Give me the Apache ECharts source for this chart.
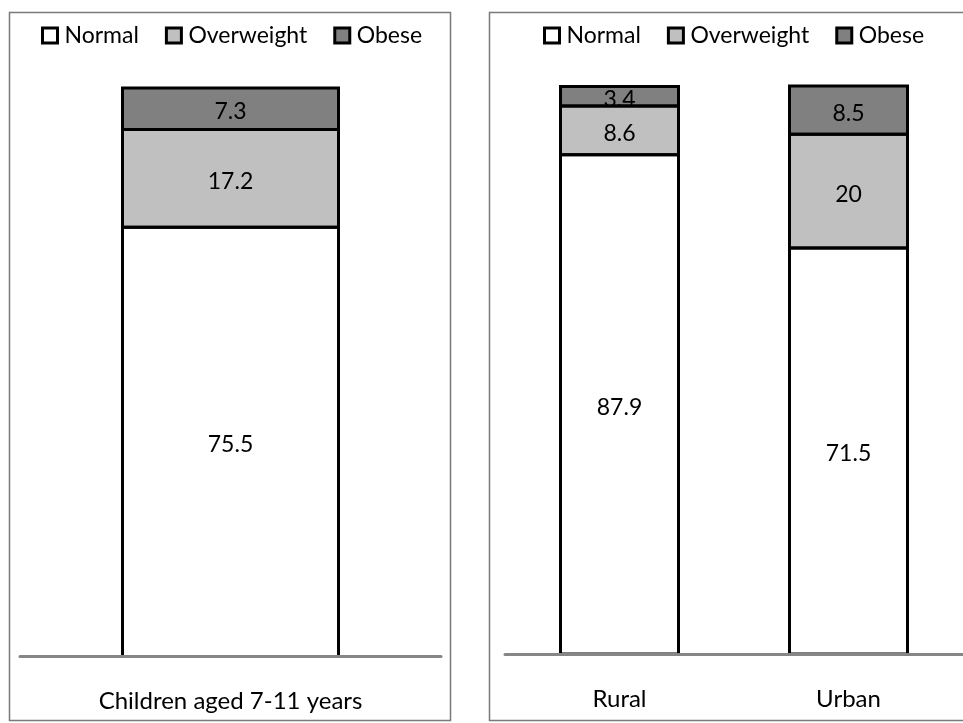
<!DOCTYPE html>
<html>
<head>
<meta charset="utf-8">
<script src="https://cdn.jsdelivr.net/npm/echarts@6/dist/echarts.min.js"></script>
<style>
  html, body { margin: 0; padding: 0; background: #fff; }
  #chart { width: 963px; height: 723px; }
</style>
</head>
<body>
<div id="chart"></div>
<script>
// Weight status of children (%), overall and by area
const seriesNames = ['Normal', 'Overweight', 'Obese'];

const groupsAll = ['Children aged 7-11 years'];
const normalAll = [75.5];
const overweightAll = [17.2];
const obeseAll = [7.3];

const groupsArea = ['Rural', 'Urban'];
const normalArea = [87.9, 71.5];
const overweightArea = [8.6, 20];
const obeseArea = [3.4, 8.5];

const FONT = 'Lato';
const fills = { Normal: '#ffffff', Overweight: '#c0c0c0', Obese: '#808080' };

// Stacked segments drawn as outlined boxes: fill, value text, then a
// centred 3px outline so neighbouring segments share one dividing line.
function segmentSeries(name, idx, values, bases, barWidth) {
  const data = values.map((v, i) => [i, bases[i], bases[i] + v, v]);
  return {
    name: name,
    type: 'custom',
    xAxisIndex: idx,
    yAxisIndex: idx,
    itemStyle: { color: fills[name] },
    encode: { x: 0, y: [1, 2] },
    data: data,
    renderItem: function (params, api) {
      const c = api.value(0);
      const lo = api.coord([c, api.value(1)]);
      const hi = api.coord([c, api.value(2)]);
      const x = lo[0] - barWidth / 2;
      const y = hi[1];
      const h = lo[1] - hi[1];
      return {
        type: 'group',
        children: [
          { type: 'rect', shape: { x: x, y: y, width: barWidth, height: h },
            style: { fill: fills[name] }, z2: 0 },
          { type: 'text', z2: 1,
            style: { text: String(api.value(3)), x: lo[0], y: (lo[1] + hi[1]) / 2 + 3,
                     align: 'center', verticalAlign: 'middle', fill: '#000',
                     fontFamily: FONT, fontSize: 23 } },
          { type: 'rect', shape: { x: x, y: y, width: barWidth, height: h },
            style: { fill: 'none', stroke: '#000', lineWidth: 3 }, z2: 2 }
        ]
      };
    }
  };
}

function stackFor(idx, normal, overweight, obese, barWidth) {
  const zero = normal.map(() => 0);
  const b1 = normal.slice();
  const b2 = normal.map((v, i) => v + overweight[i]);
  return [
    segmentSeries('Normal', idx, normal, zero, barWidth),
    segmentSeries('Overweight', idx, overweight, b1, barWidth),
    segmentSeries('Obese', idx, obese, b2, barWidth)
  ];
}

function categoryAxis(idx, cats) {
  return {
    type: 'category',
    gridIndex: idx,
    data: cats,
    z: 10,
    axisLine: { lineStyle: { color: '#868686', width: 3 } },
    axisTick: { show: false },
    axisLabel: { color: '#000', fontFamily: FONT, fontSize: 24, margin: 33 }
  };
}

function valueAxis(idx) {
  return { type: 'value', gridIndex: idx, min: 0, max: 100, show: false };
}

function legendAt(left) {
  return {
    data: seriesNames,
    left: left,
    top: 24,
    padding: 0,
    icon: 'rect',
    itemWidth: 15,
    itemHeight: 15,
    itemGap: 26,
    itemStyle: { borderColor: '#000', borderWidth: 3 },
    textStyle: { color: '#000', fontFamily: FONT, fontSize: 23, padding: [0, 0, 0, 2] }
  };
}

const chart = echarts.init(document.getElementById('chart'), null, { renderer: 'canvas' });

chart.setOption({
  animation: false,
  backgroundColor: '#fff',
  graphic: [
    { type: 'rect', shape: { x: 9.5, y: 12.5, width: 441, height: 708 },
      style: { fill: 'none', stroke: '#7a7a7a', lineWidth: 1.5 }, z: -1 },
    { type: 'rect', shape: { x: 489.5, y: 12.5, width: 490, height: 708 },
      style: { fill: 'none', stroke: '#7a7a7a', lineWidth: 1.5 }, z: -1 }
  ],
  legend: [legendAt(41), legendAt(543)],
  grid: [
    { left: 20, width: 421, top: 88, height: 568.5 },
    { left: 505, width: 459.5, top: 86, height: 568 }
  ],
  xAxis: [categoryAxis(0, groupsAll), categoryAxis(1, groupsArea)],
  yAxis: [valueAxis(0), valueAxis(1)],
  series: [].concat(
    stackFor(0, normalAll, overweightAll, obeseAll, 216),
    stackFor(1, normalArea, overweightArea, obeseArea, 118)
  )
});
</script>
</body>
</html>
